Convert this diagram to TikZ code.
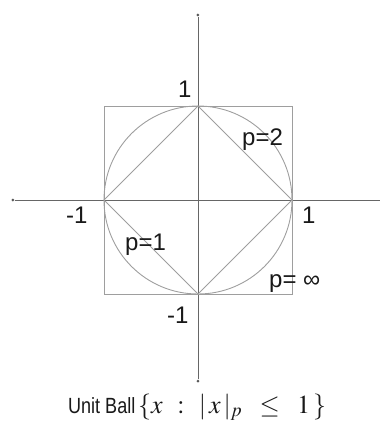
\documentclass[tikz,border=0pt]{standalone}
\usepackage{amsmath}
\usepackage{mathptmx}
\usepackage{fontspec}
\setmainfont{Liberation Sans}
\usetikzlibrary{positioning}

\begin{document}
\begin{tikzpicture}[x=1pt, y=1pt,
    axis/.style={draw=black!60, line width=0.9pt},
    ball/.style={draw=black!38, line width=0.9pt},
    lbl/.style={font=\fontsize{24}{26}\selectfont, text=black!90, inner sep=0pt},
    caption/.style={font=\fontsize{22}{24}\selectfont, text=black!90, inner sep=0pt},
    enddot/.style={circle, fill=black!65, inner sep=0pt, minimum size=3pt}]
  \useasboundingbox (-198,-226) rectangle (182,200);
  \def\r{94}
  \coordinate (O) at (0,0);
  % axes
  \node[enddot] (xl) at (-185,0) {};
  \coordinate (xr) at (182,0);
  \node[enddot] (yt) at (0,185) {};
  \node[enddot] (yb) at (0,-181) {};
  \draw[axis] (xl) -- (xr);
  \draw[axis] (yb) -- (yt);
  % unit balls for p = infinity, 2, 1
  \draw[ball] (-\r,-\r) rectangle (\r,\r);
  \draw[ball] (O) circle (\r);
  \draw[ball] (\r,0) -- (0,\r) -- (-\r,0) -- (0,-\r) -- cycle;
  % tick labels
  \node[lbl, anchor=base west] (ytop) at (-20,103) {1};
  \node[lbl, anchor=base west] (ybot) at (-31,-123) {-1};
  \node[lbl, anchor=base west] (xleft) at (-132,-23) {-1};
  \node[lbl, anchor=base west] (xright) at (104,-23) {1};
  % norm labels
  \node[lbl, anchor=base west] (ptwo) at (44,55) {p=2};
  \node[lbl, anchor=base west] (pone) at (-73,-50) {p=1};
  \node[lbl, anchor=base west] (pinf) at (71,-87) {p= ∞};
  % caption
  \node[caption, anchor=base west, xscale=0.82] (cap) at (-130,-213) {Unit Ball};
  \node[caption, anchor=base west, font=\fontsize{26}{28}\selectfont] (set) at (-60,-213)
    {$\{x\;\,:\;\,\lvert\,x\,\rvert_p\;\;\le\;\;1\,\}$};
\end{tikzpicture}
\end{document}
